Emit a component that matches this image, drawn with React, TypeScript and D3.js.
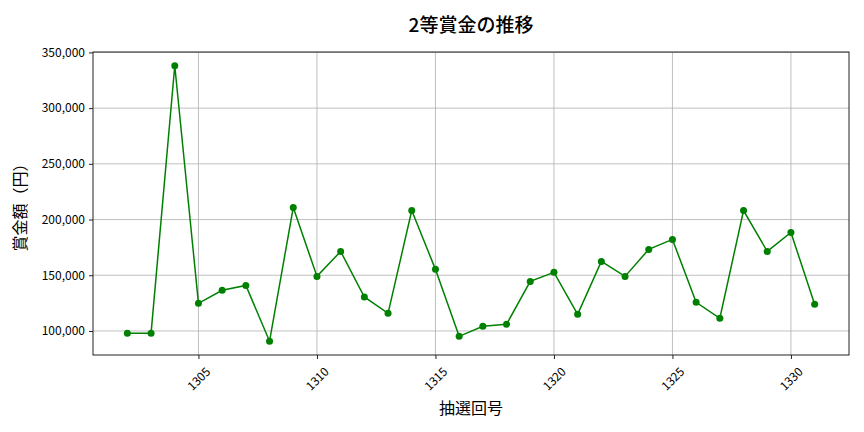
import { useEffect, useRef } from "react";
import * as d3 from "d3";

// 抽選回号
const draws: number[] = [
  1302, 1303, 1304, 1305, 1306, 1307, 1308, 1309, 1310, 1311, 1312, 1313, 1314, 1315, 1316,
  1317, 1318, 1319, 1320, 1321, 1322, 1323, 1324, 1325, 1326, 1327, 1328, 1329, 1330, 1331,
];

// 2等賞金（円）
const prizes: number[] = [
  98000, 97900, 338000, 124800, 136500, 140900, 90800, 210800, 149000, 171400, 130500, 115800,
  208100, 155300, 95200, 104200, 106000, 144500, 152600, 115000, 162400, 149000, 173200, 182200,
  125700, 111400, 208100, 171400, 188400, 123900,
];

const xTicks: number[] = [1305, 1310, 1315, 1320, 1325, 1330];
const yTicks: number[] = [100000, 150000, 200000, 250000, 300000, 350000];

const FONT = "'Noto Sans CJK JP', 'Noto Sans', sans-serif";

export default function App() {
  const ref = useRef<SVGSVGElement>(null);

  useEffect(() => {
    if (!ref.current) return;
    const svg = d3.select(ref.current);
    svg.selectAll("*").remove();

    const W = 864;
    const H = 432;
    const margin = { top: 52, right: 15, bottom: 77, left: 93 };
    const iw = W - margin.left - margin.right;
    const ih = H - margin.top - margin.bottom;

    const xPad = (d3.max(draws)! - d3.min(draws)!) * 0.05;
    const x = d3
      .scaleLinear()
      .domain([d3.min(draws)! - xPad, d3.max(draws)! + xPad])
      .range([0, iw]);

    const yMin = d3.min(prizes)!;
    const yMax = d3.max(prizes)!;
    const yPad = (yMax - yMin) * 0.05;
    const y = d3
      .scaleLinear()
      .domain([yMin - yPad, yMax + yPad])
      .range([ih, 0]);

    const g = svg.append("g").attr("transform", `translate(${margin.left},${margin.top})`);

    // グリッド
    g.append("g")
      .selectAll("line")
      .data(xTicks)
      .enter()
      .append("line")
      .attr("x1", (d) => x(d))
      .attr("x2", (d) => x(d))
      .attr("y1", 0)
      .attr("y2", ih)
      .attr("stroke", "#b0b0b0")
      .attr("stroke-width", 0.8);

    g.append("g")
      .selectAll("line")
      .data(yTicks)
      .enter()
      .append("line")
      .attr("x1", 0)
      .attr("x2", iw)
      .attr("y1", (d) => y(d))
      .attr("y2", (d) => y(d))
      .attr("stroke", "#b0b0b0")
      .attr("stroke-width", 0.8);

    // 折れ線
    const pts = draws.map((d, i) => [d, prizes[i]] as [number, number]);
    g.append("path")
      .datum(pts)
      .attr("fill", "none")
      .attr("stroke", "green")
      .attr("stroke-width", 1.5)
      .attr(
        "d",
        d3
          .line<[number, number]>()
          .x((d) => x(d[0]))
          .y((d) => y(d[1]))
      );

    g.append("g")
      .selectAll("circle")
      .data(pts)
      .enter()
      .append("circle")
      .attr("cx", (d) => x(d[0]))
      .attr("cy", (d) => y(d[1]))
      .attr("r", 3.5)
      .attr("fill", "green");

    // 枠
    g.append("rect")
      .attr("width", iw)
      .attr("height", ih)
      .attr("fill", "none")
      .attr("stroke", "#222")
      .attr("stroke-width", 1);

    // X軸
    const xa = g
      .append("g")
      .attr("transform", `translate(0,${ih})`)
      .call(d3.axisBottom(x).tickValues(xTicks).tickFormat(d3.format("d")).tickSize(4).tickPadding(0));
    xa.select(".domain").remove();
    xa.selectAll("line").attr("stroke", "#222");
    xa.selectAll("text")
      .attr("font-family", FONT)
      .attr("font-size", 12)
      .attr("fill", "#000")
      .attr("y", 0)
      .attr("dy", 0)
      .attr("text-anchor", "middle")
      .attr("dominant-baseline", "central")
      .attr("transform", "translate(-1,23) rotate(-45)");

    // Y軸
    const ya = g
      .append("g")
      .call(d3.axisLeft(y).tickValues(yTicks).tickFormat(d3.format(",")).tickSize(4).tickPadding(4));
    ya.select(".domain").remove();
    ya.selectAll("line").attr("stroke", "#222");
    ya.selectAll("text").attr("font-family", FONT).attr("font-size", 12).attr("fill", "#000");

    // タイトル・ラベル
    svg
      .append("text")
      .attr("x", margin.left + iw / 2)
      .attr("y", 32)
      .attr("text-anchor", "middle")
      .attr("font-family", FONT)
      .attr("font-size", 19)
      .attr("font-weight", 500)
      .text("2等賞金の推移");

    svg
      .append("text")
      .attr("x", margin.left + iw / 2)
      .attr("y", 414)
      .attr("text-anchor", "middle")
      .attr("font-family", FONT)
      .attr("font-size", 16)
      .text("抽選回号");

    svg
      .append("text")
      .attr("transform", `translate(26,${margin.top + ih / 2}) rotate(-90)`)
      .attr("text-anchor", "middle")
      .attr("font-family", FONT)
      .attr("font-size", 16)
      .text("賞金額（円）");
  }, []);

  return (
    <svg
      ref={ref}
      width={864}
      height={432}
      style={{ position: "absolute", left: 0, top: 0, background: "#fff" }}
    />
  );
}
